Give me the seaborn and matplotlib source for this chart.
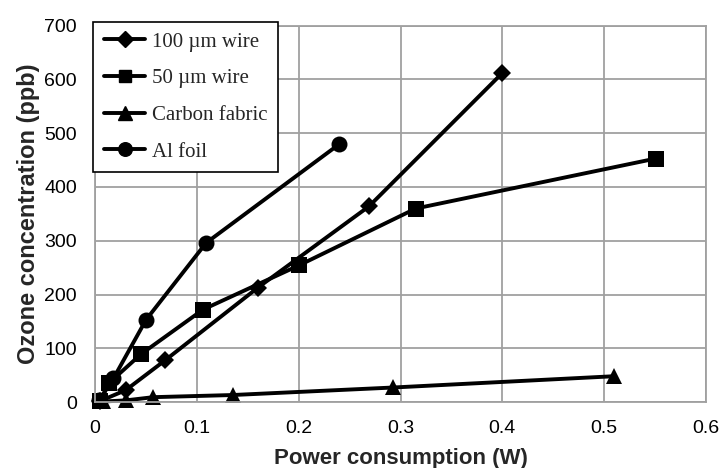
import matplotlib
matplotlib.use("Agg")
import matplotlib.pyplot as plt
import seaborn as sns
import pandas as pd
from matplotlib.lines import Line2D

series_names = ["100 \u00b5m wire", "50 \u00b5m wire", "Carbon fabric", "Al foil"]

wire100_x = [0.005, 0.030, 0.069, 0.160, 0.269, 0.400]
wire100_y = [2, 22, 78, 213, 364, 612]

wire50_x = [0.005, 0.014, 0.045, 0.106, 0.200, 0.315, 0.551]
wire50_y = [2, 36, 89, 172, 254, 360, 453]

carbon_x = [0.008, 0.030, 0.057, 0.135, 0.293, 0.510]
carbon_y = [1, 3, 9, 13, 27, 48]

alfoil_x = [0.004, 0.018, 0.050, 0.109, 0.240]
alfoil_y = [4, 44, 153, 296, 480]

x_ticks = [0, 0.1, 0.2, 0.3, 0.4, 0.5, 0.6]
x_tick_labels = ["0", "0.1", "0.2", "0.3", "0.4", "0.5", "0.6"]
y_ticks = [0, 100, 200, 300, 400, 500, 600, 700]

frames = []
for name, xs, ys in zip(series_names,
                        [wire100_x, wire50_x, carbon_x, alfoil_x],
                        [wire100_y, wire50_y, carbon_y, alfoil_y]):
    frames.append(pd.DataFrame({"power": xs, "ozone": ys, "series": name}))
df = pd.concat(frames, ignore_index=True)

sns.set_style("white")
plt.rcParams["font.family"] = ["Liberation Sans", "DejaVu Sans"]

fig = plt.figure(figsize=(7.21, 4.68), dpi=100)
ax = fig.add_axes([0.132, 0.141, 0.847, 0.804])

markers = {series_names[0]: "D", series_names[1]: "s",
           series_names[2]: "^", series_names[3]: "o"}
sizes_map = {series_names[0]: 9.5, series_names[1]: 11,
             series_names[2]: 12, series_names[3]: 11.5}
palette = {n: "black" for n in series_names}
LW = 2.8

sns.lineplot(data=df, x="power", y="ozone", hue="series", style="series",
             markers=markers, dashes=False, palette=palette, sort=False,
             estimator=None, linewidth=LW, markeredgewidth=0, ax=ax,
             legend=False)
for line, n in zip(ax.lines, series_names):
    line.set_markersize(sizes_map[n])
    line.set_markeredgecolor("black")
    line.set_markerfacecolor("black")
    line.set_clip_on(False)

ax.set_xlim(0, 0.6)
ax.set_ylim(0, 700)
ax.set_xticks(x_ticks)
ax.set_xticklabels(x_tick_labels)
ax.set_yticks(y_ticks)
ax.tick_params(axis="x", labelsize=14, length=0, pad=13, colors="black")
ax.tick_params(axis="y", labelsize=14, length=0, pad=13, colors="black")
ax.grid(True, color="#a0a0a0", linewidth=1.3)
ax.set_axisbelow(True)
for sp in ax.spines.values():
    sp.set_color("#a0a0a0")
    sp.set_linewidth(1.3)

ax.set_xlabel("Power consumption (W)", fontsize=16, fontweight="bold", labelpad=8)
ax.set_ylabel("Ozone concentration (ppb)", fontsize=17, fontweight="bold", labelpad=3)

handles = [Line2D([0], [0], color="black", linewidth=LW, marker=markers[n],
                  markersize=sizes_map[n] * 0.85, markerfacecolor="black",
                  markeredgecolor="black") for n in series_names]
leg = ax.legend(handles, series_names, loc="upper left",
                bbox_to_anchor=(-0.003, 1.011), frameon=True, fancybox=False,
                prop={"family": "Liberation Serif", "size": 15},
                handlelength=2.0, handletextpad=0.3, labelspacing=0.82,
                borderpad=0.5, borderaxespad=0)
leg.get_frame().set_edgecolor("black")
leg.get_frame().set_linewidth(1.2)
leg.get_frame().set_alpha(1)

fig.savefig("out.png", dpi=100)
